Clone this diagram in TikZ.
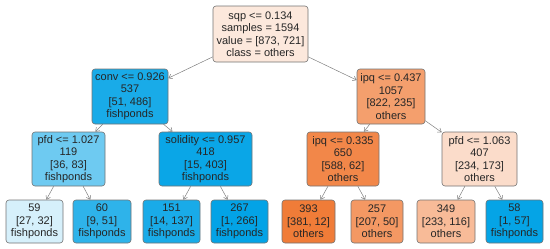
\documentclass[tikz,border=0pt]{standalone}
\usepackage{fontspec}
\setmainfont{Liberation Sans}
\usetikzlibrary{arrows.meta}
\definecolor{othc}{RGB}{240,120,50}
\definecolor{fishc}{RGB}{0,162,230}
\tikzset{
  split/.style={draw=black!55, line width=0.6pt, rounded corners=3pt, align=center,
    inner sep=0pt, text=black!85, font=\fontsize{11}{12.5}\selectfont, minimum height=55pt},
  leaf/.style={split, minimum height=43pt},
  edge/.style={draw=black!50, line width=0.5pt, -{Straight Barb[length=3.5pt,width=5pt]}}
}
\begin{document}
\begin{tikzpicture}[x=1pt,y=-1pt]
  \useasboundingbox (0,0) rectangle (550,249);
  \node[split, fill=othc!17, minimum width=95pt, minimum height=56pt] (root) at (260.5,34)
    {sqp <= 0.134\\samples = 1594\\value = [873, 721]\\class = others};

  \node[split, fill=fishc!90, minimum width=76pt] (conv) at (130,96.5)
    {conv <= 0.926\\537\\{}[51, 486]\\fishponds};
  \node[split, fill=othc!71, minimum width=68pt] (ipqA) at (391,96.5)
    {ipq <= 0.437\\1057\\{}[822, 235]\\others};

  \node[split, fill=fishc!57, minimum width=73pt, minimum height=54pt] (pfdA) at (68.5,159)
    {pfd <= 1.027\\119\\{}[36, 83]\\fishponds};
  \node[split, fill=fishc!96, minimum width=93pt, minimum height=54pt] (solid) at (205.5,159)
    {solidity <= 0.957\\418\\{}[15, 403]\\fishponds};
  \node[split, fill=othc!89, minimum width=72pt, minimum height=54pt] (ipqB) at (343,159)
    {ipq <= 0.335\\650\\{}[588, 62]\\others};
  \node[split, fill=othc!26, minimum width=75pt, minimum height=54pt] (pfdB) at (479.5,159)
    {pfd <= 1.063\\407\\{}[234, 173]\\others};

  \node[leaf, fill=fishc!16, minimum width=57pt] (l59) at (34.5,221.5) {59\\{}[27, 32]\\fishponds};
  \node[leaf, fill=fishc!82, minimum width=58pt] (l60) at (102,221.5) {60\\{}[9, 51]\\fishponds};
  \node[leaf, fill=fishc!90, minimum width=57pt] (l151) at (171.5,221.5) {151\\{}[14, 137]\\fishponds};
  \node[leaf, fill=fishc!99, minimum width=57pt] (l267) at (239.5,221.5) {267\\{}[1, 266]\\fishponds};
  \node[leaf, fill=othc!97, minimum width=53pt] (l393) at (308.5,221.5) {393\\{}[381, 12]\\others};
  \node[leaf, fill=othc!76, minimum width=52pt] (l257) at (377,221.5) {257\\{}[207, 50]\\others};
  \node[leaf, fill=othc!50, minimum width=58pt] (l349) at (446,221.5) {349\\{}[233, 116]\\others};
  \node[leaf, fill=fishc!98, minimum width=57pt] (l58) at (514.5,221.5) {58\\{}[1, 57]\\fishponds};

  \draw[edge] (root) -- (conv);
  \draw[edge] (root) -- (ipqA);
  \draw[edge] (conv) -- (pfdA);
  \draw[edge] (conv) -- (solid);
  \draw[edge] (ipqA) -- (ipqB);
  \draw[edge] (ipqA) -- (pfdB);
  \draw[edge] (pfdA) -- (l59);
  \draw[edge] (pfdA) -- (l60);
  \draw[edge] (solid) -- (l151);
  \draw[edge] (solid) -- (l267);
  \draw[edge] (ipqB) -- (l393);
  \draw[edge] (ipqB) -- (l257);
  \draw[edge] (pfdB) -- (l349);
  \draw[edge] (pfdB) -- (l58);
\end{tikzpicture}
\end{document}
